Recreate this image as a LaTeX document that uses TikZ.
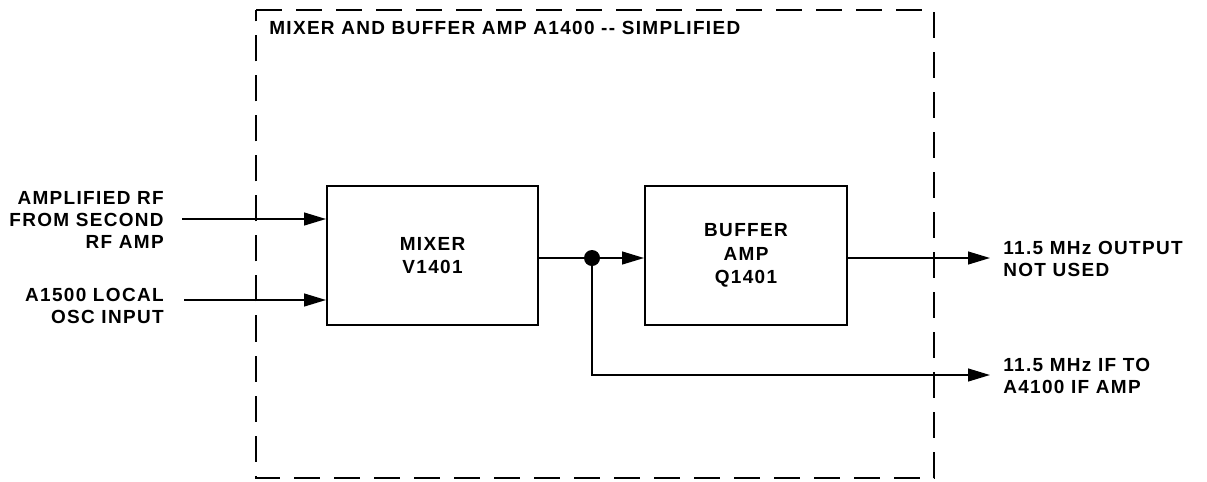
\documentclass[tikz,border=0pt]{standalone}
\usepackage{fontspec}
\setmainfont{Liberation Sans}[LetterSpace=7]
\usepackage{tikz}
\usetikzlibrary{arrows.meta, positioning}
\tikzset{
  block/.style={rectangle, draw=black, line width=1.3pt,
    align=center, font=\labelfont, inner sep=0pt},
  arrow/.style={-{Triangle[length=5.5mm, width=3.2mm]}, line width=1.3pt},
  line/.style={line width=1.3pt},
  frame/.style={line width=1.4pt, dash pattern=on 0.65cm off 0.35cm},
  lbl/.style={font=\labelfont, inner sep=0pt}
}
\newcommand{\labelfont}{\fontsize{13.5}{15.6}\bfseries\selectfont}
\begin{document}
\begin{tikzpicture}[x=0.025cm, y=-0.025cm]
  \useasboundingbox (0,0) rectangle (1207,481);

  % Dashed module outline
  \draw[frame] (256,10) -- (934,10) -- (934,478) -- (256,478) -- cycle;
  \node[lbl, anchor=west] (title) at (269,28) {MIXER AND BUFFER AMP A1400 -{}- SIMPLIFIED};

  % Blocks
  \node[block, minimum width=5.275cm, minimum height=3.475cm] (mixer) at (432.5,255.5) {MIXER\\[1pt]V1401};
  \node[block, minimum width=5.05cm, minimum height=3.475cm] (buffer) at (746,255.5) {BUFFER\\[1pt]AMP\\[1pt]Q1401};

  % Inputs
  \node[lbl, align=right, anchor=east] (rf_in) at (164,220) {AMPLIFIED RF\\FROM SECOND\\RF AMP};
  \node[lbl, align=right, anchor=east] (osc_in) at (164,306) {A1500 LOCAL\\OSC INPUT};
  \coordinate (rf_start) at (182,219);
  \coordinate (osc_start) at (184,300);

  \draw[arrow] (rf_start) -- (rf_start -| mixer.west);
  \draw[arrow] (osc_start) -- (osc_start -| mixer.west);

  % Junction
  \coordinate (junc) at (592,258);
  \draw[line] (junc -| mixer.east) -- (junc);
  \draw[arrow] (junc) -- (junc -| buffer.west);
  \fill (junc) circle (8);

  % Outputs
  \node[lbl, align=left, anchor=west] (out_nu) at (1003,259) {11.5 MHz OUTPUT\\NOT USED};
  \node[lbl, align=left, anchor=west] (out_if) at (1003,376) {11.5 MHz IF TO\\A4100 IF AMP};
  \coordinate (nu_end) at (990,258);
  \coordinate (if_end) at (990,375);

  \draw[arrow] (nu_end -| buffer.east) -- (nu_end);
  \draw[arrow] (junc) -- (junc |- if_end) -- (if_end);
\end{tikzpicture}
\end{document}
